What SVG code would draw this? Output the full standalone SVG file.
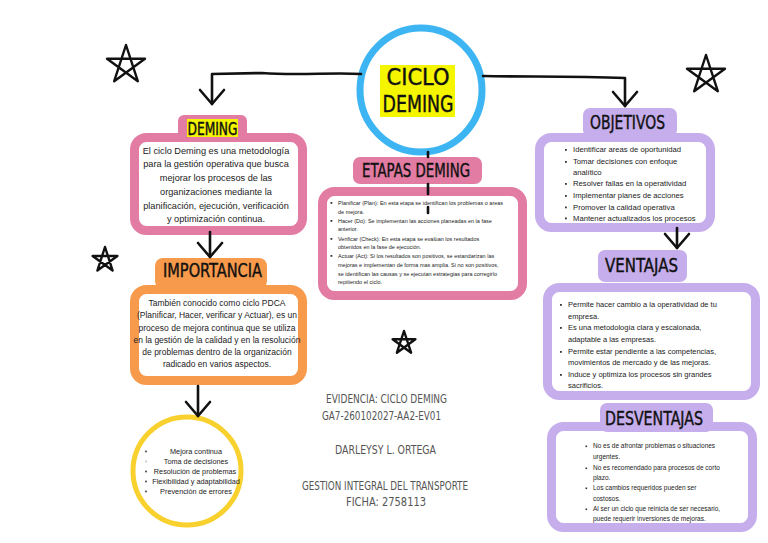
<svg xmlns="http://www.w3.org/2000/svg" width="768" height="543" viewBox="0 0 768 543">
<defs>
<marker id="chev" markerUnits="userSpaceOnUse" markerWidth="28" markerHeight="28" viewBox="0 0 28 28" refX="25" refY="14" orient="auto">
<path d="M11,2 L25,14 L11,26" fill="none" stroke="#111" stroke-width="2.6" stroke-linecap="round" stroke-linejoin="round"/>
</marker>
<style>
.hd{font-family:"DejaVu Sans Condensed","DejaVu Sans",sans-serif;font-stretch:condensed;fill:#111;stroke:#111;stroke-width:0.4;text-anchor:middle}
.bd{font-family:"Liberation Sans",Arial,sans-serif;fill:#222}
.c{text-anchor:middle}
.pink{fill:#fff;stroke:#e27ca2;stroke-width:9}
.pinkt{fill:#e27ca2}
.org{fill:#fff;stroke:#f89a4b;stroke-width:9}
.orgt{fill:#f89a4b}
.lav{fill:#fff;stroke:#c6aeec;stroke-width:9}
.lavt{fill:#c6aeec}
.conn{fill:none;stroke:#111;stroke-width:2.6;stroke-linecap:round;stroke-linejoin:round}
.star{fill:none;stroke:#111;stroke-width:2.4;stroke-linejoin:round}
.bul{fill:#333}
.gr{font-family:"DejaVu Sans Condensed","DejaVu Sans",sans-serif;font-stretch:condensed;fill:#555;font-size:12px}
</style>
</defs>
<rect width="768" height="543" fill="#fff"/>

<g id="stars">
<path class="star" d="M126,45 L137.8,81.2 L107,58.8 L145,58.8 L114.2,81.2 Z"/>
<path class="star" d="M706,55 L717.8,91.2 L687,68.8 L725,68.8 L694.2,91.2 Z"/>
<path class="star" d="M105,247 L112.6,270.5 L92.6,256 L117.4,256 L97.4,270.5 Z"/>
<path class="star" d="M404,331 L411.1,352.7 L392.6,339.3 L415.4,339.3 L396.9,352.7 Z"/>
</g>

<g id="ciclo-deming">
<ellipse cx="421" cy="90" rx="61" ry="62" fill="#fff" stroke="#3db5f2" stroke-width="7"/>
<rect x="380" y="65" width="75" height="52" fill="#f6f500"/>
<text class="hd" x="418" y="85" font-size="23" textLength="63" lengthAdjust="spacingAndGlyphs">CICLO</text>
<text class="hd" x="418" y="112" font-size="23" textLength="71" lengthAdjust="spacingAndGlyphs">DEMING</text>
</g>

<g id="deming">
<rect class="pink" x="134.5" y="137.5" width="168" height="93" rx="12"/>
<rect class="pinkt" x="178" y="115" width="69" height="24" rx="6"/>
<rect x="187" y="119" width="51" height="18" fill="#f6f500"/>
<text class="hd" x="212.5" y="135" font-size="17" textLength="50" lengthAdjust="spacingAndGlyphs">DEMING</text>
<g class="bd c" font-size="9.2">
<text x="216" y="153.5">El ciclo Deming es una metodología</text>
<text x="216" y="166.5">para la gestión operativa que busca</text>
<text x="216" y="180.5">mejorar los procesos de las</text>
<text x="216" y="194.5">organizaciones mediante la</text>
<text x="216" y="208.5">planificación, ejecución, verificación</text>
<text x="216" y="221.5">y optimización continua.</text>
</g>
</g>

<g id="importancia">
<rect class="org" x="134.5" y="289.5" width="168" height="91" rx="12"/>
<rect class="orgt" x="155" y="258" width="112" height="31" rx="8"/>
<text class="hd" x="212.5" y="277" font-size="19" textLength="99" lengthAdjust="spacingAndGlyphs">IMPORTANCIA</text>
<g class="bd c" font-size="8.5">
<text x="217" y="306">También conocido como ciclo PDCA</text>
<text x="217" y="318">(Planificar, Hacer, verificar y Actuar), es un</text>
<text x="217" y="331">proceso de mejora continua que se utiliza</text>
<text x="217" y="343">en la gestión de la calidad y en la resolución</text>
<text x="217" y="355">de problemas dentro de la organización</text>
<text x="217" y="367">radicado en varios aspectos.</text>
</g>
</g>

<g id="beneficios">
<circle cx="187" cy="471" r="54" fill="#fff" stroke="#f8d12f" stroke-width="5"/>
<g class="bd c" font-size="7.3">
<text x="196" y="453.5">Mejora continua</text>
<text x="196" y="463.5">Toma de decisiones</text>
<text x="195" y="473.5">Resolución de problemas</text>
<text x="196" y="483.5">Flexibilidad y adaptabilidad</text>
<text x="196" y="493.5">Prevención de errores</text>
</g>
<circle class="bul" cx="146" cy="451.5" r="0.9"/>
<circle cx="146" cy="461.5" r="0.9" fill="#bbb"/>
<circle class="bul" cx="146" cy="471.5" r="0.9"/>
<circle class="bul" cx="146" cy="481.5" r="0.9"/>
<circle class="bul" cx="146" cy="491.5" r="0.9"/>
</g>

<g id="etapas">
<rect class="pink" x="322.5" y="191.5" width="200" height="104" rx="12"/>
<rect class="pinkt" x="353" y="157" width="129" height="27" rx="7"/>
<text class="hd" x="416" y="177" font-size="19" textLength="108" lengthAdjust="spacingAndGlyphs">ETAPAS DEMING</text>
<g class="bd" font-size="5.5">
<text x="338" y="205">Planificar (Plan): En esta etapa se identifican los problemas o areas</text>
<text x="338" y="214">de mejora.</text>
<text x="338" y="223">Hacer (Do): Se implementan las acciones planeadas en la fase</text>
<text x="338" y="231">anterior.</text>
<text x="338" y="241">Verificar (Check): En esta etapa se evalúan los resultados</text>
<text x="338" y="249">obtenidos en la fase de ejecución.</text>
<text x="338" y="258">Actuar (Act): Si los resultados son positivos, se estandarizan las</text>
<text x="338" y="267">mejoras e implementan de forma mas amplia. Si no son positivos,</text>
<text x="338" y="276">se identifican las causas y se ejecutan estrategias para corregirlo</text>
<text x="338" y="284">repitiendo el ciclo.</text>
</g>
<rect class="bul" x="330.5" y="202" width="1.8" height="1.8"/>
<rect class="bul" x="330.5" y="220" width="1.8" height="1.8"/>
<rect class="bul" x="330.5" y="238" width="1.8" height="1.8"/>
<rect class="bul" x="330.5" y="255" width="1.8" height="1.8"/>
</g>

<g id="objetivos">
<rect class="lav" x="539.5" y="137.5" width="171" height="90" rx="12"/>
<rect class="lavt" x="583" y="108" width="94" height="29" rx="7"/>
<text class="hd" x="627.5" y="129" font-size="19" textLength="75" lengthAdjust="spacingAndGlyphs">OBJETIVOS</text>
<g class="bd" font-size="7.7">
<text x="573" y="152">Identificar areas de oportunidad</text>
<text x="573" y="164">Tomar decisiones con enfoque</text>
<text x="573" y="175">analítico</text>
<text x="573" y="186">Resolver fallas en la operatividad</text>
<text x="573" y="198">Implementar planes de acciones</text>
<text x="573" y="209.5">Promover la calidad operativa</text>
<text x="573" y="220.5">Mantener actualizados los procesos</text>
</g>
<rect class="bul" x="565" y="149" width="1.8" height="1.8"/>
<rect class="bul" x="565" y="161" width="1.8" height="1.8"/>
<rect class="bul" x="565" y="183" width="1.8" height="1.8"/>
<rect class="bul" x="565" y="195" width="1.8" height="1.8"/>
<rect class="bul" x="565" y="206.5" width="1.8" height="1.8"/>
<rect class="bul" x="565" y="217.5" width="1.8" height="1.8"/>
</g>

<g id="ventajas">
<rect class="lav" x="547.5" y="287.5" width="208" height="108" rx="12"/>
<rect class="lavt" x="598" y="250" width="89" height="32" rx="7"/>
<text class="hd" x="641.5" y="272" font-size="19" textLength="73" lengthAdjust="spacingAndGlyphs">VENTAJAS</text>
<g class="bd" font-size="7.5">
<text x="568" y="307">Permite hacer cambio a la operatividad de tu</text>
<text x="568" y="319">empresa.</text>
<text x="568" y="330">Es una metodología clara y escalonada,</text>
<text x="568" y="342">adaptable a las empresas.</text>
<text x="568" y="354">Permite estar pendiente a las competencias,</text>
<text x="568" y="365">movimientos de mercado y de las mejoras.</text>
<text x="568" y="377">Induce y optimiza los procesos sin grandes</text>
<text x="568" y="388">sacrificios.</text>
</g>
<rect class="bul" x="560" y="304" width="1.8" height="1.8"/>
<rect class="bul" x="560" y="327" width="1.8" height="1.8"/>
<rect class="bul" x="560" y="351" width="1.8" height="1.8"/>
<rect class="bul" x="560" y="374" width="1.8" height="1.8"/>
</g>

<g id="desventajas">
<rect class="lav" x="551.5" y="426.5" width="201" height="101" rx="12"/>
<rect class="lavt" x="600" y="403" width="113" height="29" rx="7"/>
<text class="hd" x="654" y="425" font-size="19" textLength="98" lengthAdjust="spacingAndGlyphs">DESVENTAJAS</text>
<g class="bd" font-size="6.5">
<text x="593" y="448">No es de afrontar problemas o situaciones</text>
<text x="593" y="459">urgentes.</text>
<text x="593" y="470">No es recomendado para procesos de corto</text>
<text x="593" y="480">plazo.</text>
<text x="593" y="490">Los cambios requeridos pueden ser</text>
<text x="593" y="501">costosos.</text>
<text x="593" y="511">Al ser un ciclo que reinicia de ser necesario,</text>
<text x="593" y="521">puede requerir inversiones de mejoras.</text>
</g>
<rect class="bul" x="585.5" y="445.5" width="1.6" height="1.6"/>
<rect class="bul" x="585.5" y="467.5" width="1.6" height="1.6"/>
<rect class="bul" x="585.5" y="487.5" width="1.6" height="1.6"/>
<rect class="bul" x="585.5" y="508.5" width="1.6" height="1.6"/>
</g>

<g id="evidencia">
<text class="gr" x="326" y="403" textLength="121" lengthAdjust="spacingAndGlyphs">EVIDENCIA: CICLO DEMING</text>
<text class="gr" x="322" y="420" textLength="119" lengthAdjust="spacingAndGlyphs">GA7-260102027-AA2-EV01</text>
<text class="gr" x="335" y="454" textLength="101" lengthAdjust="spacingAndGlyphs">DARLEYSY L. ORTEGA</text>
<text class="gr" x="302" y="490" textLength="166" lengthAdjust="spacingAndGlyphs">GESTION  INTEGRAL DEL TRANSPORTE</text>
<text class="gr" x="346" y="506" textLength="80" lengthAdjust="spacingAndGlyphs">FICHA: 2758113</text>
</g>

<g id="connectors">
<path class="conn" d="M361,74 C330,72 300,76 262,73 L212,74 L212,104" marker-end="url(#chev)"/>
<path class="conn" d="M483,76 C520,77 570,76 625,78 L625,106" marker-end="url(#chev)"/>
<path class="conn" d="M210,232 L210,257" marker-end="url(#chev)"/>
<path class="conn" d="M198,386 L198,416" marker-end="url(#chev)"/>
<path class="conn" d="M677,228 L677,248" marker-end="url(#chev)"/>
<path class="conn" d="M428,152 L428,157" stroke-width="2"/>
<path class="conn" d="M428,184 L428,194" stroke-width="2"/>
<path class="conn" d="M428,207 L428,213" stroke-width="2"/>
</g>
</svg>
